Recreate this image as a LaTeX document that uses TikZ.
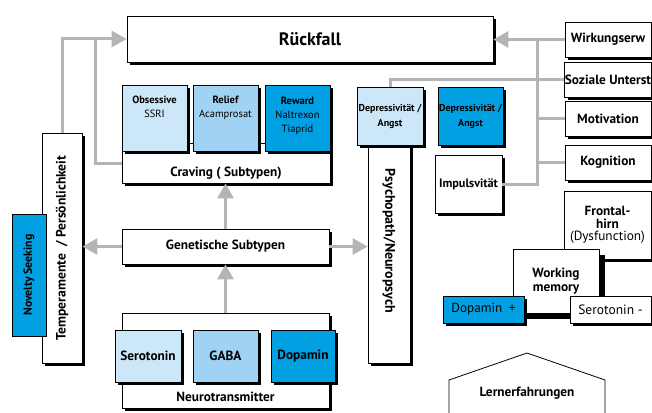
\documentclass[tikz,border=0pt]{standalone}
\usepackage{fontspec}
\setmainfont{PT Sans}
\usetikzlibrary{arrows.meta,shadows}

\definecolor{paleblue}{HTML}{CCE7F8}
\definecolor{midblue}{HTML}{A0D3F3}
\definecolor{deepblue}{HTML}{00A0E3}
\definecolor{conngray}{HTML}{B4B4B4}

\newcommand\fsz[2]{\fontsize{#1pt}{#2pt}\selectfont}

\tikzset{
  dims/.style 2 args = {minimum width=#1pt, minimum height=#2pt},
  flat/.style = {draw, fill=white, line width=0.8pt, inner sep=0pt, align=center,
    font=\bfseries\fsz{13.3}{14}},
  box/.style = {flat, drop shadow={shadow xshift=3pt, shadow yshift=-3pt, opacity=1, fill=black}},
  lab/.style = {anchor=north, align=center, inner sep=0pt, font=\bfseries\fsz{10.5}{14}},
  conn/.style = {draw=conngray, line width=3pt},
  arr/.style = {conn, -{Triangle[length=15pt, width=16pt]}},
}

\begin{document}
\begin{tikzpicture}[x=1pt, y=-1pt]
  \useasboundingbox (0,0) rectangle (652,412);

  % top
  \node[box, dims={366}{46}, font=\bfseries\fsz{18}{20}] (rf) at (310,39) {Rückfall};

  % craving
  \node[box, dims={208}{40}, text height=33pt, text depth=7pt] (crav) at (226,163) {Craving ( Subtypen)};
  \node[box, dims={65}{66}, fill=paleblue,
    label={[lab, yshift=-11pt]north:Obsessive\\\mdseries SSRI}] (obs) at (154.5,118) {};
  \node[box, dims={65}{66}, fill=midblue,
    label={[lab, yshift=-11pt]north:Relief\\\mdseries Acamprosat}] (rel) at (225.5,118) {};
  \node[box, dims={65}{66}, fill=deepblue,
    label={[lab, yshift=-12pt]north:Reward\\\mdseries Naltrexon\\\mdseries Tiaprid}] (rew) at (297.5,118) {};

  % genetics and transmitters
  \node[box, dims={207}{35}] (gen) at (225.5,246.5) {Genetische Subtypen};
  \node[box, dims={207}{95}, text height=88pt, text depth=7pt] (nt) at (225.5,360.5) {Neurotransmitter};
  \node[box, dims={66}{52}, fill=paleblue] (ser) at (148,356) {Serotonin};
  \node[box, dims={65}{52}, fill=midblue] (gaba) at (225.5,356) {GABA};
  \node[box, dims={64}{52}, fill=deepblue] (dop) at (303,356) {Dopamin};

  % personality
  \node[box, dims={40}{230}, font=\bfseries\fsz{13.6}{14}] (temp) at (62,248) {\rotatebox{90}{Temperamente\ \ /\ Persönlichkeit}};
  \node[flat, dims={34}{122}, fill=deepblue, font=\bfseries\fsz{11.8}{12}] (nov) at (29,275) {\rotatebox{90}{Novelty Seeking}};

  % psychopathology
  \node[box, dims={42}{244}, font=\bfseries\fsz{14}{15}] (psy) at (389,241) {\rotatebox{-90}{Psychopath/Neuropsych}};
  \node[box, dims={66}{58}, fill=paleblue, font=\bfseries\fsz{10}{15}] (dep1) at (390,116) {Depressivität /\\Angst};
  \node[box, dims={65}{58}, fill=deepblue, font=\bfseries\fsz{10}{15}] (dep2) at (470.5,116) {Depressivität /\\Angst};
  \node[box, dims={67}{58}, font=\bfseries\fsz{12.2}{13}] (imp) at (468.5,184) {Impulsvität};

  % right column
  \node[box, dims={86}{35}] (wirk) at (608,39.5) {Wirkungserw};
  \node[box, dims={86}{35}] (soz) at (608,79.5) {Soziale Unterst};
  \node[box, dims={86}{35}] (mot) at (608,118.5) {Motivation};
  \node[box, dims={86}{35}] (kog) at (608,162.5) {Kognition};

  % frontal
  \node[box, dims={87}{68}, font=\bfseries\fsz{13.3}{12.5}] (front) at (607.5,225) {Frontal-\\hirn\\\mdseries(Dysfunction)};
  \node[flat, dims={86}{64}, drop shadow={shadow xshift=6pt, shadow yshift=-6pt, opacity=1, fill=black}]
    (wm) at (556,281) {Working\\memory};
  \node[box, dims={81}{27}, fill=deepblue, font=\fsz{13.2}{14}] (dopp) at (483.5,309.5) {Dopamin\enspace+};
  \node[box, dims={81}{27}, font=\fsz{13.5}{14}] (serm) at (610.5,309.5) {Serotonin -};

  % learning
  \node[inner sep=0pt, font=\bfseries\fsz{13.3}{14}] (lern) at (527,393) {Lernerfahrungen};
  \draw[line width=0.8pt] (449,415) -- (449,380) -- (527,353) -- (605,380) -- (605,415);

  % connectors
  \coordinate (jl) at (95,39);
  \coordinate (jr) at (537,39);
  \draw[arr] (temp.north) |- (rf.west);
  \draw[conn] (crav.west) -| (jl);
  \draw[arr] (gen.north) -- (gen.north |- crav.south);
  \draw[arr] (nt.north) -- (gen.south);
  \draw[arr] (gen.west) -- (gen.west -| temp.east);
  \draw[arr] (gen.east) -- (gen.east -| psy.west);
  \draw[arr] (wirk.west) -- (wirk.west -| rf.east);
  \draw[conn] (soz.west) -| (dep1.north);
  \draw[conn] (mot.west) -- (mot.west -| jr);
  \draw[conn] (kog.west) -- (kog.west -| jr);
  \draw[conn] (imp.east) -| (jr);
\end{tikzpicture}
\end{document}
